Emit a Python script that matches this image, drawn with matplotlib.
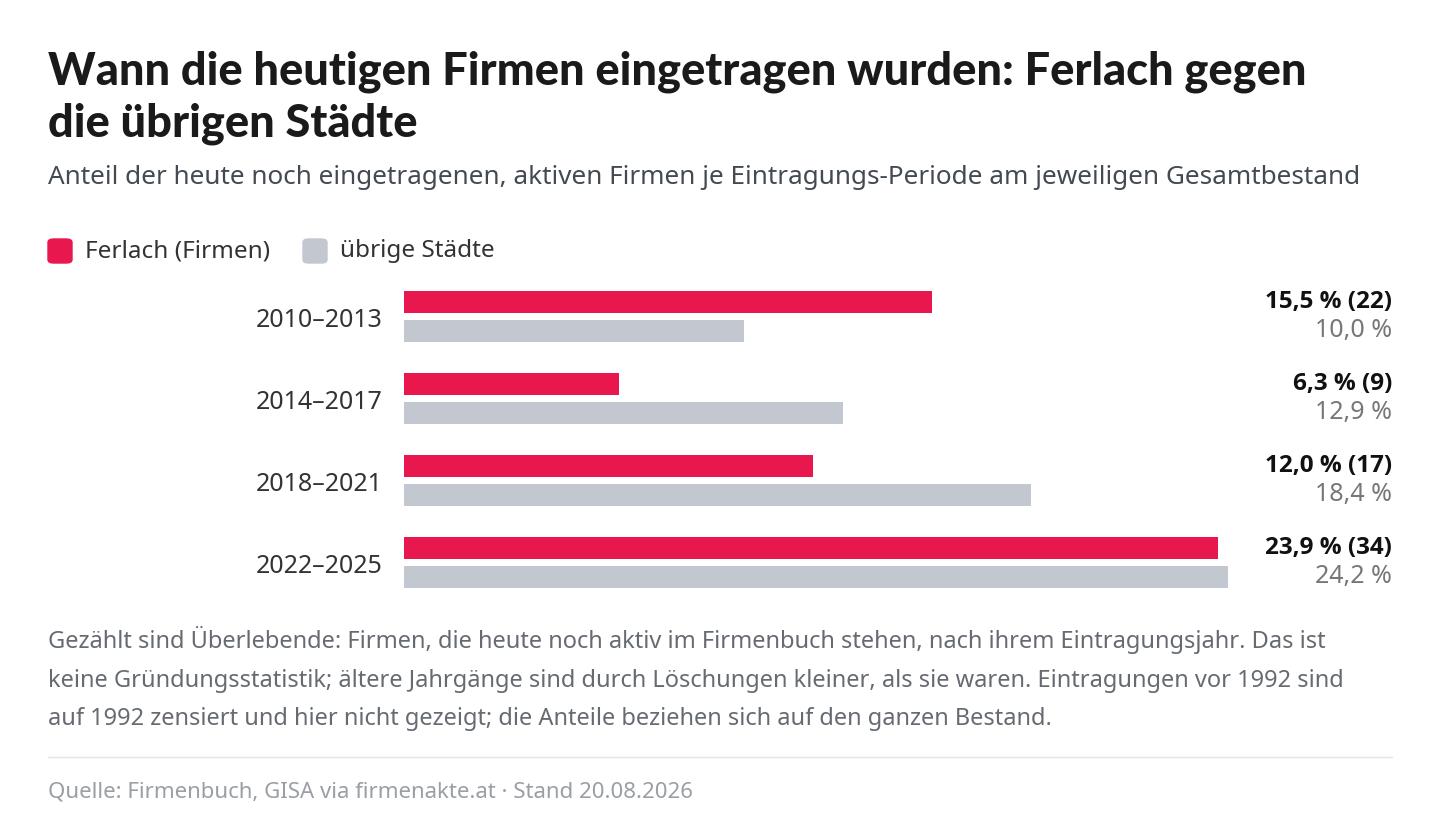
import matplotlib.pyplot as plt
from matplotlib.patches import FancyBboxPatch
from matplotlib.lines import Line2D

periods = ["2010–2013", "2014–2017", "2018–2021", "2022–2025"]
ferlach = [15.5, 6.3, 12.0, 23.9]
ferlach_n = [22, 9, 17, 34]
others = [10.0, 12.9, 18.4, 24.2]

RED = "#e8174e"
GRAY = "#c3c8d0"
W, H = 1440, 838
plt.rcParams["font.family"] = ["Noto Sans", "DejaVu Sans"]


def fx(x):
    return x / W


def fy(y):
    return 1 - y / H


fig = plt.figure(figsize=(14.4, 8.38), dpi=100)

for yy, line in [(72, "Wann die heutigen Firmen eingetragen wurden: Ferlach gegen"),
                 (124, "die übrigen Städte")]:
    fig.text(fx(48), fy(yy), line, fontsize=32.5, fontweight="black",
             family=["Lato", "DejaVu Sans"], color="#1a1a1a", va="center")
fig.text(fx(48), fy(177), "Anteil der heute noch eingetragenen, aktiven Firmen je Eintragungs-Periode am jeweiligen Gesamtbestand",
         fontsize=18.8, color="#444a52", va="center")

# legend
for x0, col, lab in [(48, RED, "Ferlach (Firmen)"), (303, GRAY, "übrige Städte")]:
    fig.patches.append(FancyBboxPatch((fx(x0), fy(263)), fx(24), 24 / H,
                                      boxstyle="round,pad=0,rounding_size=0.004",
                                      transform=fig.transFigure, color=col))
    fig.text(fx(x0 + 37), fy(251), lab, fontsize=17.5, color="#333", va="center")

ax = fig.add_axes([fx(404), fy(590), fx(824), 300 / H])
ys = range(len(periods))
off, h = 0.177, 0.27
ax.barh([y - off for y in ys], ferlach, height=h, color=RED)
ax.barh([y + off for y in ys], others, height=h, color=GRAY)
ax.set_xlim(0, 24.2)
ax.set_ylim(3.336, -0.323)
ax.axis("off")
xr = 24.2 * (1392 - 404) / 824
for i in ys:
    ax.text(-0.62, i + 0.05, periods[i], ha="right", va="center", fontsize=18, color="#333")
    ax.text(xr, i - off, f"{ferlach[i]:.1f} % ({ferlach_n[i]})".replace(".", ","),
            ha="right", va="center", fontsize=17.5, fontweight="bold",
            family=["Open Sans", "DejaVu Sans"], color="#111")
    ax.text(xr, i + off, f"{others[i]:.1f} %".replace(".", ","),
            ha="right", va="center", fontsize=18, color="#777")

notes = ["Gezählt sind Überlebende: Firmen, die heute noch aktiv im Firmenbuch stehen, nach ihrem Eintragungsjahr. Das ist",
         "keine Gründungsstatistik; ältere Jahrgänge sind durch Löschungen kleiner, als sie waren. Eintragungen vor 1992 sind",
         "auf 1992 zensiert und hier nicht gezeigt; die Anteile beziehen sich auf den ganzen Bestand."]
for yy, line in zip([640, 681, 719], notes):
    fig.text(fx(48), fy(yy), line, fontsize=17, color="#666b72", va="center")

fig.add_artist(Line2D([fx(48), fx(1392)], [fy(757), fy(757)], color="#e3e5e8", lw=1))
fig.text(fx(48), fy(792), "Quelle: Firmenbuch, GISA via firmenakte.at · Stand 20.08.2026",
         fontsize=16, color="#9a9ea5", va="center")

fig.savefig("out.png", dpi=100)
